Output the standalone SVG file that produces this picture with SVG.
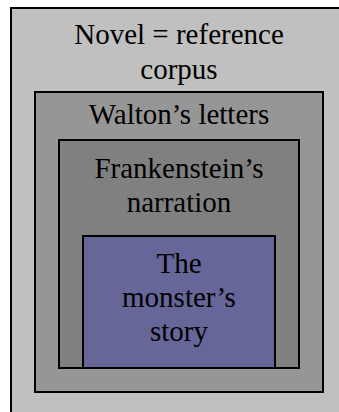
<svg xmlns="http://www.w3.org/2000/svg" width="339" height="412" viewBox="0 0 339 412">
<style>
.box{stroke:#000;stroke-width:2}
.t{font-family:"Liberation Serif","Times New Roman",serif;font-size:29px;fill:#000;text-anchor:middle}
</style>
<rect width="339" height="412" fill="#fff"/>
<g id="novel">
<rect class="box" x="11" y="8" width="340" height="420" fill="#c0c0c0"/>
<text class="t" x="179" y="44">Novel = reference</text>
<text class="t" x="179" y="79">corpus</text>
</g>
<g id="walton">
<rect class="box" x="35" y="92" width="288" height="300" fill="#969696"/>
<text class="t" x="179" y="124">Walton’s letters</text>
</g>
<g id="frankenstein">
<rect class="box" x="59" y="140" width="240" height="228" fill="#808080"/>
<text class="t" x="179" y="178">Frankenstein’s</text>
<text class="t" x="179" y="212">narration</text>
</g>
<g id="monster">
<rect class="box" x="83" y="236" width="192" height="132" fill="#666699"/>
<text class="t" x="179" y="273">The</text>
<text class="t" x="179" y="307">monster’s</text>
<text class="t" x="179" y="341">story</text>
</g>
<g id="connectors"/>
</svg>
